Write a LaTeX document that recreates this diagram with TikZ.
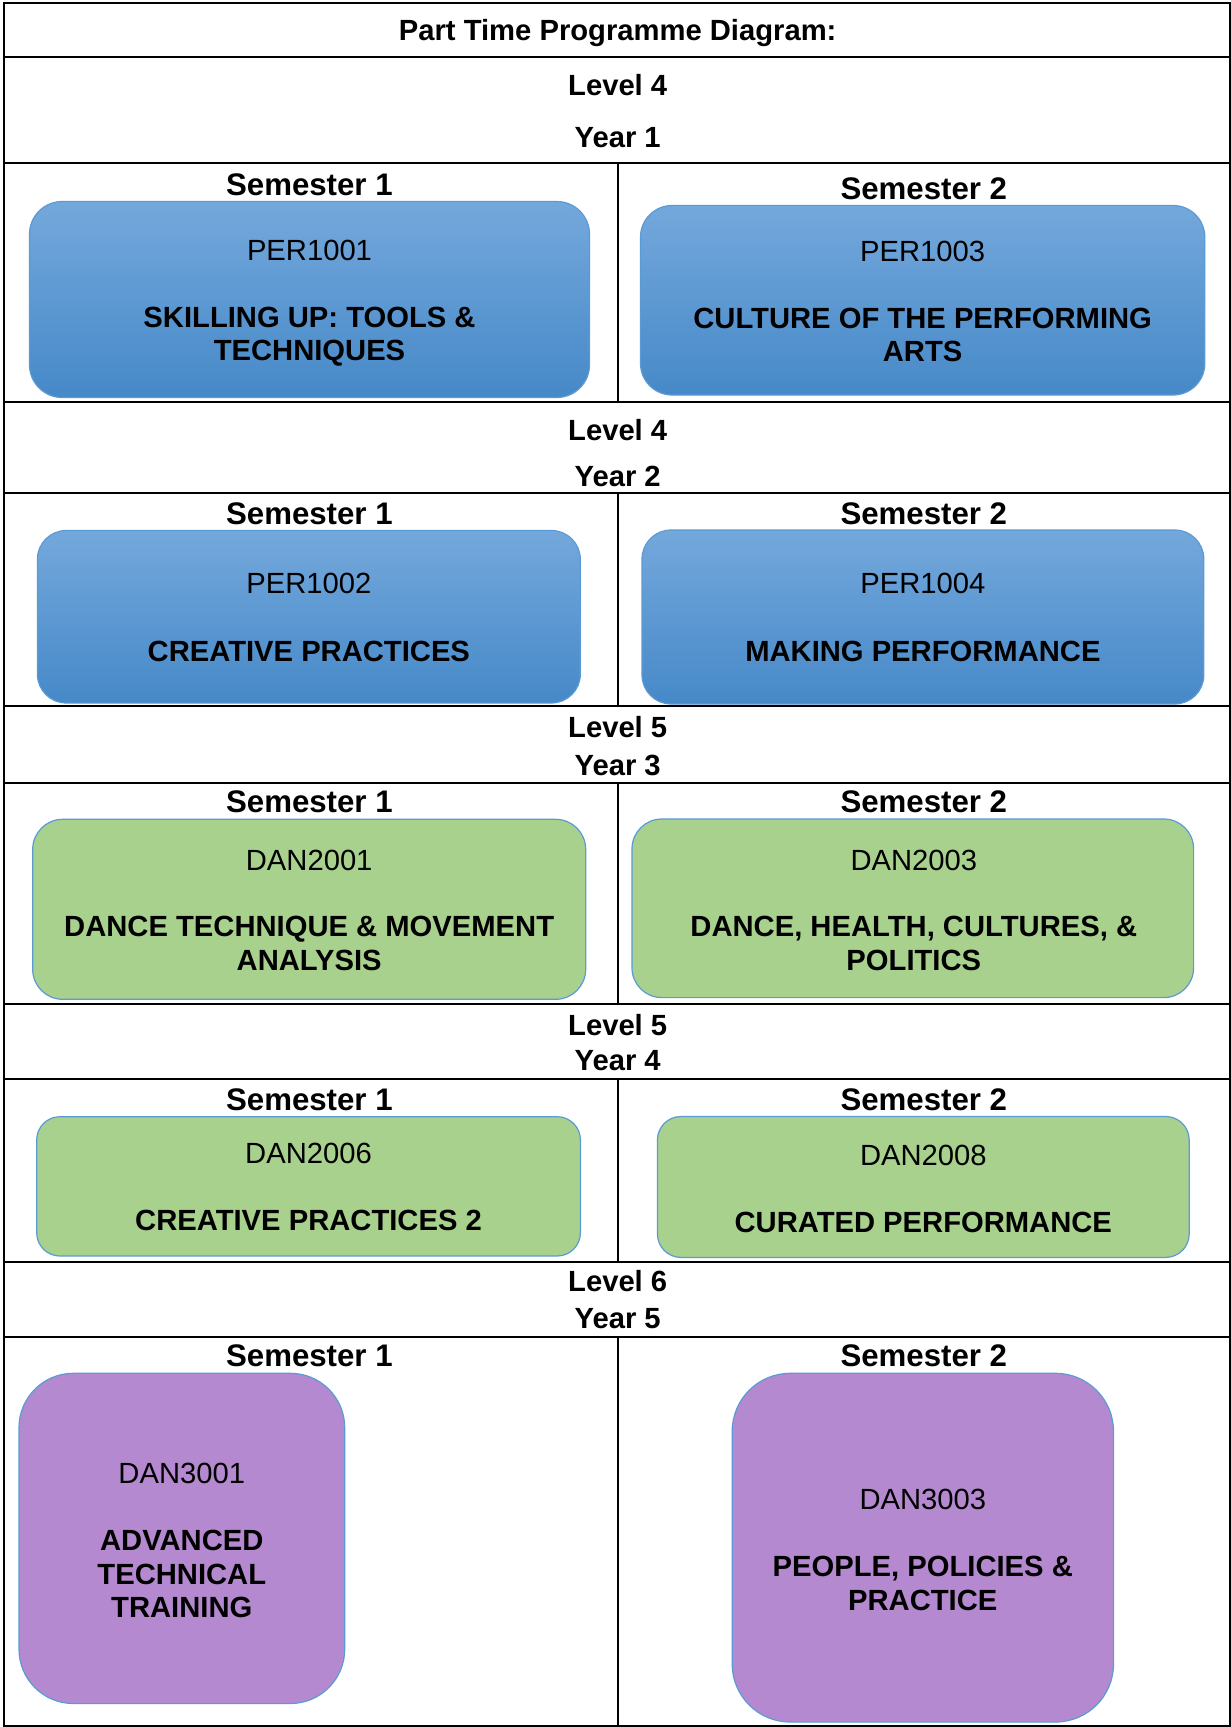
\documentclass[tikz,border=0pt]{standalone}
\usepackage{fontspec}
\setmainfont{Liberation Sans}
\definecolor{bluetop}{HTML}{74A8DC}
\definecolor{bluebot}{HTML}{4689C8}
\definecolor{edgeblue}{HTML}{5B9BD5}
\definecolor{greenfill}{HTML}{A9D18E}
\definecolor{purplefill}{HTML}{B589CF}
\tikzset{
  gridline/.style={line width=2pt, black},
  hdtxt/.style={font=\fontsize{29.2}{34}\selectfont\bfseries, anchor=base, inner sep=0},
  semtxt/.style={font=\fontsize{31.2}{36}\selectfont\bfseries, anchor=base, inner sep=0},
  codetxt/.style={font=\fontsize{29.2}{34}\selectfont, anchor=base, inner sep=0},
  titletxt/.style={font=\fontsize{29.2}{34}\selectfont\bfseries, anchor=base, inner sep=0},
  modbox/.style={rectangle, inner sep=0, outer sep=0, draw=edgeblue, line width=1.2pt},
  bluebox/.style={modbox, top color=bluetop, bottom color=bluebot},
  greenbox/.style={modbox, fill=greenfill},
  purplebox/.style={modbox, fill=purplefill},
}
\begin{document}
\begin{tikzpicture}[x=1pt,y=-1pt]
\useasboundingbox (0,0) rectangle (1231,1727);
\fill[white] (0,0) rectangle (1231,1727);

% ---- table grid ----
\coordinate (tl) at (4.4,3.3);
\coordinate (br) at (1229.5,1725.5);
\draw[gridline] (tl) rectangle (br);
\foreach \yy in {56.5,163,401.5,492.5,706,783,1004,1079,1262,1337}{
  \draw[gridline] (4.4,\yy) -- (1229.5,\yy);
}
\foreach \ya/\yb in {163/401.5,492.5/706,783/1004,1079/1262,1337/1725.5}{
  \draw[gridline] (618,\ya) -- (618,\yb);
}

% ---- module boxes ----
\node[bluebox, minimum width=560pt, minimum height=196pt, rounded corners=32.7pt] (b1) at (309.5,299.5) {};
\node[bluebox, minimum width=564.3pt, minimum height=189.5pt, rounded corners=31.6pt] (b2) at (922.65,300.25) {};
\node[bluebox, minimum width=542.9pt, minimum height=172.5pt, rounded corners=28.8pt] (b3) at (308.85,616.75) {};
\node[bluebox, minimum width=561.8pt, minimum height=174pt, rounded corners=29pt] (b4) at (922.9,617) {};
\node[greenbox, minimum width=553pt, minimum height=180pt, rounded corners=30pt] (b5) at (309.2,909.3) {};
\node[greenbox, minimum width=561.6pt, minimum height=178.6pt, rounded corners=29.8pt] (b6) at (912.8,908.3) {};
\node[greenbox, minimum width=543.7pt, minimum height=139.3pt, rounded corners=23.2pt] (b7) at (308.55,1186.35) {};
\node[greenbox, minimum width=531.8pt, minimum height=140.9pt, rounded corners=23.5pt] (b8) at (923.3,1186.95) {};
\node[purplebox, minimum width=325.7pt, minimum height=330.2pt, rounded corners=54.3pt] (b9) at (181.85,1538.4) {};
\node[purplebox, minimum width=381.3pt, minimum height=348.7pt, rounded corners=58pt] (b10) at (922.85,1547.65) {};

% ---- headings ----
\node[hdtxt] (title) at (617.7,40.2) {Part Time Programme Diagram:};
\node[hdtxt] (lv1) at (617.7,95.3) {Level 4};
\node[hdtxt] (yr1) at (617.7,147) {Year 1};
\node[semtxt] (s11) at (309.4,195) {Semester 1};
\node[semtxt] (s12) at (923.8,199) {Semester 2};

\node[hdtxt] (lv2) at (617.7,440) {Level 4};
\node[hdtxt] (yr2) at (617.7,486) {Year 2};
\node[semtxt] (s21) at (309.4,524) {Semester 1};
\node[semtxt] (s22) at (923.8,524) {Semester 2};

\node[hdtxt] (lv3) at (617.7,737.3) {Level 5};
\node[hdtxt] (yr3) at (617.7,775) {Year 3};
\node[semtxt] (s31) at (309.4,812.7) {Semester 1};
\node[semtxt] (s32) at (923.8,812.7) {Semester 2};

\node[hdtxt] (lv4) at (617.7,1035) {Level 5};
\node[hdtxt] (yr4) at (617.7,1070.7) {Year 4};
\node[semtxt] (s41) at (309.4,1110) {Semester 1};
\node[semtxt] (s42) at (923.8,1110) {Semester 2};

\node[hdtxt] (lv5) at (617.7,1291.7) {Level 6};
\node[hdtxt] (yr5) at (617.7,1328.3) {Year 5};
\node[semtxt] (s51) at (309.4,1366.7) {Semester 1};
\node[semtxt] (s52) at (923.8,1366.7) {Semester 2};

% ---- module texts ----
\node[codetxt] (c1) at (309.5,260) {PER1001};
\node[titletxt] (t1a) at (309.5,327) {SKILLING UP: TOOLS \&};
\node[titletxt] (t1b) at (309.5,360.5) {TECHNIQUES};

\node[codetxt] (c2) at (922.65,261) {PER1003};
\node[titletxt] (t2a) at (922.65,328.3) {CULTURE OF THE PERFORMING};
\node[titletxt] (t2b) at (922.65,361.7) {ARTS};

\node[codetxt] (c3) at (308.85,593.5) {PER1002};
\node[titletxt] (t3) at (308.85,661.7) {CREATIVE PRACTICES};

\node[codetxt] (c4) at (922.9,593.5) {PER1004};
\node[titletxt] (t4) at (922.9,661.7) {MAKING PERFORMANCE};

\node[codetxt] (c5) at (309.2,870) {DAN2001};
\node[titletxt] (t5a) at (309.2,936.7) {DANCE TECHNIQUE \& MOVEMENT};
\node[titletxt] (t5b) at (309.2,970.7) {ANALYSIS};

\node[codetxt] (c6) at (913.8,870) {DAN2003};
\node[titletxt] (t6a) at (913.8,936.7) {DANCE, HEALTH, CULTURES, \&};
\node[titletxt] (t6b) at (913.8,970.7) {POLITICS};

\node[codetxt] (c7) at (308.55,1163.3) {DAN2006};
\node[titletxt] (t7) at (308.55,1230.7) {CREATIVE PRACTICES 2};

\node[codetxt] (c8) at (923.3,1165.5) {DAN2008};
\node[titletxt] (t8) at (923.3,1232.8) {CURATED PERFORMANCE};

\node[codetxt] (c9) at (181.8,1483.3) {DAN3001};
\node[titletxt] (t9a) at (181.8,1550) {ADVANCED};
\node[titletxt] (t9b) at (181.8,1584) {TECHNICAL};
\node[titletxt] (t9c) at (181.8,1617.3) {TRAINING};

\node[codetxt] (c10) at (922.8,1509.3) {DAN3003};
\node[titletxt] (t10a) at (922.8,1576) {PEOPLE, POLICIES \&};
\node[titletxt] (t10b) at (922.8,1610) {PRACTICE};
\end{tikzpicture}
\end{document}
